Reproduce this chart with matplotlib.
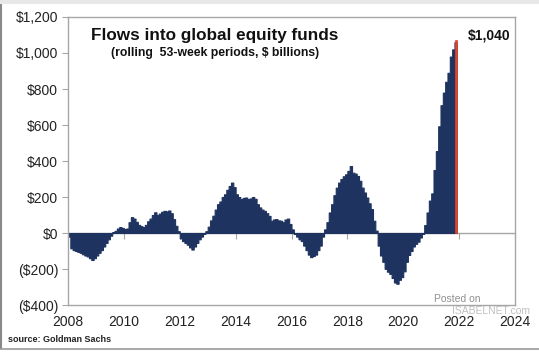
import matplotlib
matplotlib.use("Agg")
import matplotlib.pyplot as plt
import numpy as np
from matplotlib.lines import Line2D

plt.rcParams['font.family'] = ['Liberation Sans', 'DejaVu Sans']

# Monthly readings (billions USD), Jan 2008 .. Nov 2021
years = list(range(2008, 2022))
flows_by_year = {
    2008: [-20, -85, -95, -100, -105, -110, -118, -125, -130, -140, -150, -140],
    2009: [-125, -110, -95, -75, -55, -35, -15, 5, 12, 25, 33, 28],
    2010: [22, 25, 60, 88, 80, 62, 45, 38, 33, 45, 65, 80],
    2011: [100, 115, 100, 108, 118, 123, 120, 125, 110, 77, 40, 10],
    2012: [-30, -45, -55, -65, -80, -92, -75, -55, -35, -20, -5, 10],
    2013: [35, 70, 96, 130, 160, 175, 200, 215, 240, 261, 280, 255],
    2014: [215, 200, 188, 195, 197, 188, 192, 200, 190, 160, 142, 130],
    2015: [123, 110, 95, 68, 75, 77, 70, 68, 60, 75, 80, 50],
    2016: [20, -5, -20, -35, -45, -70, -95, -120, -134, -128, -120, -95],
    2017: [-70, -20, 20, 60, 114, 160, 210, 252, 280, 300, 315, 326],
    2018: [345, 372, 335, 330, 317, 290, 252, 225, 197, 165, 133, 68],
    2019: [13, -70, -125, -160, -199, -215, -227, -250, -275, -282, -260, -245],
    2020: [-213, -160, -122, -100, -75, -60, -48, -25, -5, 44, 114, 180],
    2021: [220, 350, 455, 593, 710, 780, 840, 890, 980, 1020, 1060],
}
latest_time = 2021.88
latest_value = 1070
latest_label = "$1,040"

y_ticks = [-400, -200, 0, 200, 400, 600, 800, 1000, 1200]
y_tick_labels = ["($400)", "($200)", "$0", "$200", "$400", "$600", "$800", "$1,000", "$1,200"]
x_ticks = [2008, 2010, 2012, 2014, 2016, 2018, 2020, 2022, 2024]

times = []
values = []
for yr in years:
    for m, v in enumerate(flows_by_year[yr]):
        times.append(yr + m / 12.0)
        values.append(v)
edges = times + [times[-1] + 1 / 12.0]

navy = "#1F3360"
red = "#E0452A"
grey = "#A6A6A6"

fig = plt.figure(figsize=(5.39, 3.52), dpi=100)
ax = fig.add_axes([68/539, 1-305/352, (515-68)/539, (305-17)/352])

ax.fill_between(edges, values + [values[-1]], 0, step="post", color=navy,
                linewidth=0.8, edgecolor=navy, snap=False)
ax.bar([latest_time], [latest_value], width=0.06, align="center", color=red, edgecolor=red, linewidth=0.5)

ax.set_xlim(2008, 2024)
ax.set_ylim(-400, 1200)
ax.axhline(0, color=grey, linewidth=1.0, zorder=0.5)

ax.set_yticks(y_ticks)
ax.set_yticklabels(y_tick_labels, fontsize=10, color="#222222")
ax.set_xticks(x_ticks)
ax.set_xticklabels([str(t) for t in x_ticks], fontsize=10, color="#222222")
ax.tick_params(axis="x", length=0, pad=7)
ax.tick_params(axis="y", length=4, color=grey, direction="out", pad=3)
for s in ax.spines.values():
    s.set_color(grey)
    s.set_linewidth(1.0)

# tick marks on the zero line
sec = ax.secondary_xaxis(0.25)
sec.set_xticks(x_ticks)
sec.tick_params(axis="x", length=4, color=grey, direction="out", labelbottom=False)
sec.spines["bottom"].set_visible(False)

ax.text(0.328, 0.935, "Flows into global equity funds", transform=ax.transAxes,
        ha="center", va="center", fontsize=12.3, fontweight="bold", color="#111111")
ax.text(0.328, 0.875, "(rolling  53-week periods, $ billions)", transform=ax.transAxes,
        ha="center", va="center", fontsize=8.8, fontweight="bold", color="#111111")
ax.text(0.99, 0.935, latest_label, transform=ax.transAxes,
        ha="right", va="center", fontsize=10, fontweight="bold", color="#111111")

fig.text(8/539, 1-340/352, "source: Goldman Sachs", fontsize=6.5, fontweight="bold",
         color="#222222", ha="left", va="center")
fig.text(457/539, 1-299/352, "Posted on", fontsize=7.5, color="#909090", ha="center", va="center")
fig.text(491/539, 1-311/352, "ISABELNET.com", fontsize=7.5, color="#B0B0B0", ha="center", va="center", alpha=0.8)

# outer frame
fig.add_artist(Line2D([1/539, 1/539], [0.01, 0.99], transform=fig.transFigure, color="#888888", linewidth=1.5))
fig.add_artist(Line2D([0, 1], [3/352, 3/352], transform=fig.transFigure, color="#999999", linewidth=1.2))
fig.add_artist(Line2D([0, 1], [1-2/352, 1-2/352], transform=fig.transFigure, color="#E8E8E8", linewidth=3))

fig.savefig("out.png", dpi=100, facecolor="white")
